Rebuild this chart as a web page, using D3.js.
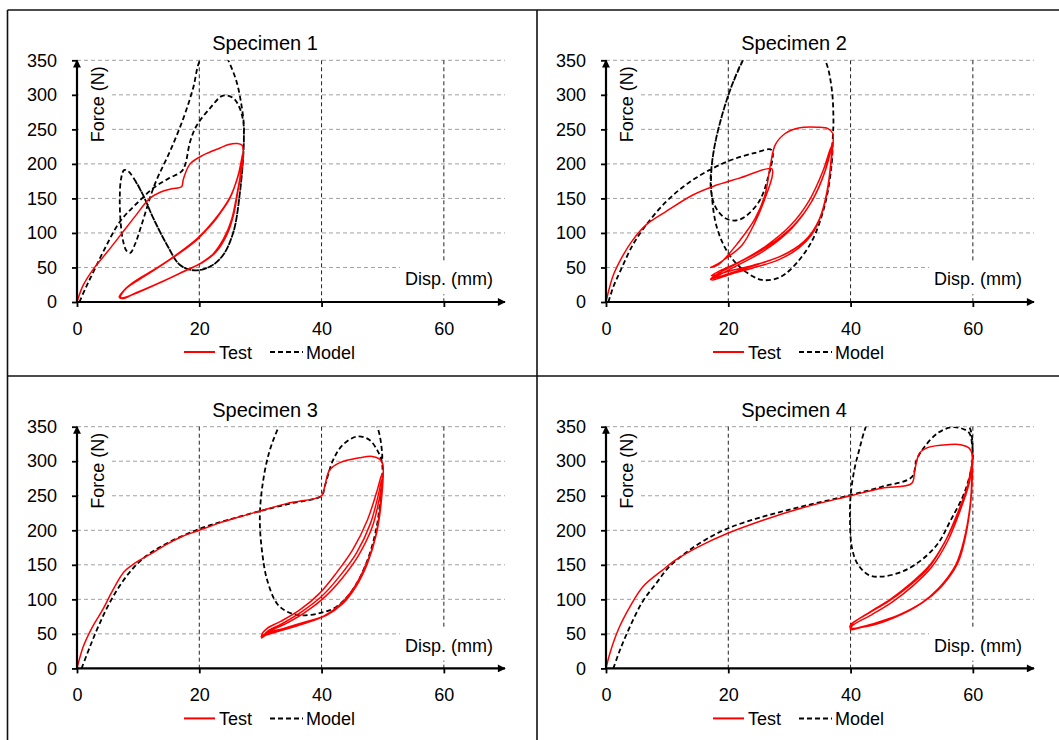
<!DOCTYPE html>
<html>
<head>
<meta charset="utf-8">
<script src="https://cdn.jsdelivr.net/npm/d3@7"></script>
<style>
  body { margin: 0; background: #fff; }
  svg { display: block; font-family: "Liberation Sans", Arial, sans-serif; }
</style>
</head>
<body>
<svg id="chart" width="1059" height="740"></svg>
<script>
const titles = ["Specimen 1", "Specimen 2", "Specimen 3", "Specimen 4"];
const xTickValues = [0, 20, 40, 60];
const yTickValues = [0, 50, 100, 150, 200, 250, 300, 350];
const legendLabels = ["Test", "Model"];
const xLabel = "Disp. (mm)";
const yLabel = "Force (N)";

// [disp mm, force N]
const test1 = [
  [0,0],[1,24],[2.7,48],[5,73],[7.3,99],[9.5,124],[11.9,150],[13.6,159],[15.5,164],[17.1,167],[17.4,178],[18.5,200],[20.7,213],[23.4,223],[24.8,228],[26.2,229.5],[27,227],[27.2,218],
  [27,196],[26.4,165],[25.6,126],[24.5,97],[22.8,73],[20.7,58],[17.9,46],[14.1,30],[9.8,13],[7.6,6],[7,6],
  [7.4,13],[8.2,21],[9.8,32],[13,49],[16.3,68],[19.6,90],[22.3,116],[25,150],[26.4,185],[27.1,214],
  [26.9,190],[26.3,160],[25.4,122],[24.2,94],[22.5,71],[20.4,57],[17.6,45],[13.8,29],[9.6,13],[7.4,5],[6.9,7],
  [7.5,15],[8.4,23],[10,33],[13.2,50],[16.5,70],[19.8,93],[22.5,119],[25.1,153],[26.5,188],[27.1,215],
  [26.8,188],[26.2,158],[25.3,120],[24,92],[22.3,70],[20,55],[17.2,43],[13.5,28],[9.4,12],[7.3,6],[7,8],
  [7.7,17],[9,26],[11,37],[14,54],[17,73],[20.2,96],[22.8,121],[25.2,155],[26.6,190],[27.1,213]
];
const model1 = [
  [0.4,0],[1.5,22],[2.7,44],[4.3,73],[7,116],[9.8,143],[12.5,165],[15,179],[17.1,189],[17.7,199],[18.5,232],[19.6,256],[21.7,280],[23.9,299],[25.6,295],[26.6,281],[27.2,261],[27.3,242],
  [27.2,213],[26.6,155],[25.6,102],[23.9,68],[21.7,51],[19,46],[16.8,54],[14.7,83],[12.5,121],[10.8,155],[9.3,179],[8.3,190],[7.7,191],[7.2,178],[7,152],[7.1,120],[7.5,90],[8.1,74],[8.7,71],[9.5,84],[10.5,110],[12.7,170],[15.2,218],[17.4,266],[19,310],[20.1,350],[22,372],[23.7,368],[24.7,351],[26.1,319],[26.9,285],[27.3,256],[27.3,242],
  [27.2,213],[26.6,155],[25.6,102],[23.9,68],[21.7,51],[19,46],[16.8,54],[14.7,83],[12.5,121],[10.8,155],[9.3,179]
];
const test2 = [
  [0,0],[1.2,39],[2.8,68],[4.4,90],[6.6,112],[9.8,131],[14.2,155],[17.4,167],[21.7,179],[27.1,193],[27.2,183],
  [26,150],[24.4,116],[22.3,83],[19.6,63],[17.4,51],[17.1,50],
  [18.5,55],[21.7,87],[24.4,121],[26,155],[26.9,199],[27.7,228],[29.3,244],[31.5,252],[34.7,253],[36.3,251],[37.1,244],
  [36.9,213],[36.3,165],[35.2,126],[33.6,97],[31.5,78],[28.2,61],[23.9,49],[20.6,41],[17.4,32],[17.1,33],
  [18.5,39],[21.7,54],[26,75],[30.4,107],[33.6,145],[35.8,189],[37.1,232],
  [36.8,200],[36,152],[34.6,114],[32.4,88],[28.5,66],[24,53],[20.3,45],[17.2,38],
  [18.6,45],[21.8,58],[26,80],[30.2,111],[33.3,148],[35.5,190],[36.9,226],
  [36.8,205],[36.1,158],[34.9,120],[32.8,91],[29.5,70],[25,55],[20.8,43],[17.2,34],
  [18.5,42],[21.7,57],[26.2,79],[30.6,110],[33.8,148],[35.9,191],[37,230]
];
const model2 = [
  [0.4,0],[1.2,22],[2.3,44],[4.4,83],[6.6,112],[9.8,145],[13.1,170],[16.9,191],[20.6,206],[24.4,216],[27.1,220],
  [26.3,174],[25,145],[22.8,124],[21.2,118],[19.6,121],[18.2,133],[17.4,150],[17.1,175],[17.7,223],[19,271],[20.6,314],[22.5,352],[25,385],[29,400],[33,385],[35.8,351],[36.9,310],[37.2,261],[37.1,240],
  [36.9,199],[35.8,141],[33.6,87],[30.4,49],[28.2,35],[25.5,32],[22.8,44],[20.6,63],[19,87],[17.9,116],[17.3,155],[17.2,185],[17.7,223],[19,271],[20.6,314],[22.5,352]
];
const test3 = [
  [0,0],[1,31],[2.4,58],[4.2,85],[5.9,114],[7.7,140],[9.4,152],[12.3,167],[14.5,179],[17.2,191],[20,200],[23.1,210],[26.8,220],[30,228],[34.4,239],[40,250],[40.5,263],[41.3,287],[43,298],[46.2,305],[48.3,307],[49.5,303],[50,296],
  [49.8,245],[49,196],[47.5,152],[45.6,118],[43.5,94],[40.8,77],[37.6,68],[33.8,58],[31.1,51],[30.3,46],[30.2,48],
  [31.1,58],[33.3,68],[36.5,85],[39.7,109],[42.4,138],[45.1,172],[47.5,215],[49.1,258],[49.9,282],
  [49.7,240],[48.8,190],[47.2,148],[45.2,115],[43,92],[40.5,76],[37.5,66],[34,57],[31,49],[30.2,44],
  [31.2,54],[33.6,65],[36.9,83],[40.2,106],[43,134],[45.7,167],[48,210],[49.3,252],[49.9,275],
  [49.6,235],[48.7,186],[47,145],[45,113],[42.7,90],[40.2,75],[37.2,65],[33.8,56],[30.8,48],[30.1,46],
  [31.3,53],[34,64],[37.3,81],[40.6,104],[43.4,131],[46,163],[48.3,205],[49.5,248],[50,270]
];
const model3 = [
  [0.75,0],[2.1,31],[3.7,65],[5.9,104],[8.5,138],[11.2,162],[14.5,180],[20,202],[24.7,215],[30,228],[35,239],[40,250],[40.5,263],[41.9,302],[43.5,324],[45.9,336],[47.8,331],[49.1,316],[49.9,297],
  [49.7,254],[48.9,200],[47.3,152],[45.1,114],[42.4,89],[39.7,80],[36.5,77],[34.4,82],[32.7,94],[31.1,128],[30.3,167],[29.9,215],[30.3,263],[31.4,312],[33,350],[35,385],[41,400],[46.5,388],[49.1,350],[49.9,312],[49.9,297]
];
const test4 = [
  [0,0],[0.64,22],[2,56],[3.9,89],[6,118],[9.2,142],[11.4,157],[15.1,176],[20,196],[25.8,215],[32.3,233],[40,250],[45.1,261],[50,268],[50.5,287],[51.3,312],[52.7,320],[55.9,324],[58,324],[59.4,319],[59.9,310],
  [59.9,297],[59.6,239],[58.8,191],[57.5,152],[54.8,118],[51.6,94],[47.3,75],[43,63],[40,58],
  [40,63],[43,80],[46.2,97],[49.4,118],[52.7,145],[55.3,181],[57.5,225],[59.1,263],[59.9,297],
  [59.7,245],[58.9,196],[57.7,157],[55.2,122],[52,97],[47.8,77],[43.4,64],[40,56],
  [40.3,62],[43.5,78],[46.8,96],[50,118],[53.2,146],[55.8,183],[57.9,228],[59.4,268],[59.9,292],
  [59.6,240],[58.6,188],[57.2,150],[54.4,116],[51.2,92],[47,73],[42.8,61],[40,59],
  [40.2,64],[43.2,82],[46.5,100],[49.7,122],[53,150],[55.6,186],[57.7,228],[59.2,266],[59.9,295]
];
const model4 = [
  [1.2,0],[2.3,27],[3.9,60],[6,97],[8.2,123],[10.3,147],[13,167],[16.2,186],[20,203],[25.8,220],[32.3,235],[40,251],[45.1,263],[50,277],[50.8,302],[52.1,321],[54.3,341],[56.4,349],[58,348],[59.4,341],[59.9,321],[59.9,297],
  [58.6,254],[56.4,215],[54.3,181],[51.6,157],[48.4,140],[45.1,133],[43,135],[41.1,152],[40.2,176],[39.9,215],[40,249],[40.6,287],[41.4,316],[42.5,350],[44,378],[50,395],[56,385],[59.4,350],[59.9,331],[59.9,297]
];

const testSeries = [test1, test2, test3, test4];
const modelSeries = [model1, model2, model3, model4];

(function () {
  const svg = d3.select("#chart");
  const W = 1059, H = 740;

  svg.append("rect").attr("width", W).attr("height", H).attr("fill", "#fff");

  // table frame
  const frame = svg.append("g").attr("stroke", "#111").attr("stroke-width", 1.6);
  frame.append("line").attr("x1", 7.5).attr("x2", W).attr("y1", 10).attr("y2", 10);
  frame.append("line").attr("x1", 7.5).attr("x2", 7.5).attr("y1", 10).attr("y2", H);
  frame.append("line").attr("x1", 537).attr("x2", 537).attr("y1", 10).attr("y2", H);
  frame.append("line").attr("x1", 7.5).attr("x2", W).attr("y1", 376).attr("y2", 376);

  const defs = svg.append("defs");
  defs.append("marker")
    .attr("id", "arrow")
    .attr("viewBox", "0 0 10 10")
    .attr("refX", 9).attr("refY", 5)
    .attr("markerWidth", 4.5).attr("markerHeight", 3.6)
    .attr("orient", "auto")
    .append("path").attr("d", "M0,0L10,5L0,10z").attr("fill", "#000");

  const pw = 428, ph = 241.7;
  const x = d3.scaleLinear().domain([0, 70]).range([0, pw]);
  const y = d3.scaleLinear().domain([0, 350]).range([ph, 0]);

  const line = d3.line()
    .x(d => x(d[0]))
    .y(d => y(d[1]))
    .curve(d3.curveCatmullRom.alpha(0.5));

  titles.forEach((title, i) => {
    const col = i % 2, row = Math.floor(i / 2);
    const g = svg.append("g").attr("transform", `translate(${77 + col * 529},${60.3 + row * 366.4})`);

    // grid
    g.append("g").selectAll("line")
      .data(yTickValues.filter(v => v > 0))
      .join("line")
      .attr("x1", 0).attr("x2", x(70))
      .attr("y1", d => y(d)).attr("y2", d => y(d))
      .attr("stroke", "#a0a0a0").attr("stroke-width", 1)
      .attr("stroke-dasharray", "4,3");
    g.append("g").selectAll("line")
      .data(xTickValues.filter(v => v > 0))
      .join("line")
      .attr("x1", d => x(d)).attr("x2", d => x(d))
      .attr("y1", 0).attr("y2", ph)
      .attr("stroke", "#222").attr("stroke-width", 1)
      .attr("stroke-dasharray", "4,3");

    // label backgrounds
    g.append("rect").attr("x", 2).attr("y", 4).attr("width", 33).attr("height", 80).attr("fill", "#fff");
    g.append("rect").attr("x", 323).attr("y", 202).attr("width", 110).attr("height", 32).attr("fill", "#fff");

    const clipId = `clip${i}`;
    defs.append("clipPath").attr("id", clipId)
      .append("rect").attr("x", 0).attr("y", 0).attr("width", pw).attr("height", ph);

    const plot = g.append("g").attr("clip-path", `url(#${clipId})`);
    plot.append("path")
      .datum(modelSeries[i])
      .attr("d", line)
      .attr("fill", "none")
      .attr("stroke", "#000")
      .attr("stroke-width", 1.8)
      .attr("stroke-dasharray", "5,3");
    plot.append("path")
      .datum(testSeries[i])
      .attr("d", line)
      .attr("fill", "none")
      .attr("stroke", "#ff0000")
      .attr("stroke-width", 1.5);

    // axes
    const yAxis = g.append("g")
      .call(d3.axisLeft(y).tickValues(yTickValues).tickSize(5).tickPadding(15));
    const xAxis = g.append("g")
      .attr("transform", `translate(0,${ph})`)
      .call(d3.axisBottom(x).tickValues(xTickValues).tickSize(5).tickPadding(15));
    [xAxis, yAxis].forEach(a => {
      a.select(".domain").remove();
      a.selectAll("line").attr("stroke", "#000").attr("stroke-width", 1.8);
      a.selectAll("text").attr("font-size", 18).attr("fill", "#000")
        .attr("font-family", "\"Liberation Sans\", Arial, sans-serif");
    });

    g.append("line")
      .attr("x1", x(0)).attr("x2", x(70))
      .attr("y1", ph).attr("y2", ph)
      .attr("stroke", "#000").attr("stroke-width", 2.2)
      .attr("marker-end", "url(#arrow)");
    g.append("line")
      .attr("x1", 0).attr("x2", 0)
      .attr("y1", ph + 1).attr("y2", 0)
      .attr("stroke", "#000").attr("stroke-width", 2.2)
      .attr("marker-end", "url(#arrow)");

    // texts
    g.append("text")
      .attr("x", 188).attr("y", -10)
      .attr("text-anchor", "middle")
      .attr("font-size", 20)
      .text(title);
    g.append("text")
      .attr("transform", "translate(27,6) rotate(-90)")
      .attr("text-anchor", "end")
      .attr("font-size", 18)
      .text(yLabel);
    g.append("text")
      .attr("x", 328).attr("y", ph - 16.5)
      .attr("font-size", 18)
      .text(xLabel);

    // legend
    const lg = g.append("g").attr("transform", `translate(0,${ph + 50})`);
    lg.append("line").attr("x1", 107).attr("x2", 138).attr("y1", 0).attr("y2", 0)
      .attr("stroke", "#ff0000").attr("stroke-width", 2);
    lg.append("text").attr("x", 142).attr("y", 6.5).attr("font-size", 18).text(legendLabels[0]);
    lg.append("line").attr("x1", 193).attr("x2", 226).attr("y1", 0).attr("y2", 0)
      .attr("stroke", "#000").attr("stroke-width", 2).attr("stroke-dasharray", "5,3");
    lg.append("text").attr("x", 229).attr("y", 6.5).attr("font-size", 18).text(legendLabels[1]);
  });
})();
</script>
</body>
</html>
